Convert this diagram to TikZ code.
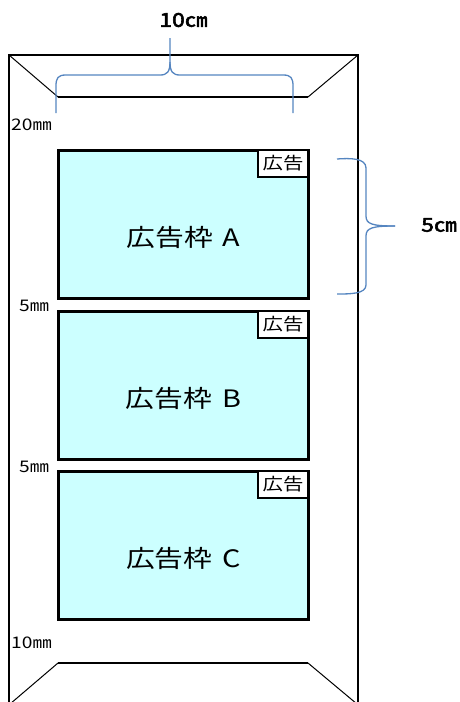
\documentclass[tikz,border=0pt]{standalone}
\usepackage{fontspec}
\newfontfamily\jp[FakeStretch=1.2]{Noto Sans CJK JP}
\newfontfamily\jpb[FakeStretch=1.2,FakeBold=3]{Noto Sans CJK JP}
\definecolor{adfill}{HTML}{CCFFFF}
\definecolor{bracecol}{HTML}{5585C0}
\tikzset{
  adbox/.style={draw=black, line width=3pt, fill=adfill, minimum width=250pt, minimum height=148pt, inner sep=0pt, outer sep=0pt},
  tagbox/.style={draw=black, line width=1.5pt, fill=white, minimum width=50pt, minimum height=27pt, inner sep=0pt, outer sep=0pt, font=\jp\fontsize{17}{17}\selectfont},
  adtext/.style={inner sep=0pt, font=\jp\fontsize{24}{24}\selectfont},
  dimtext/.style={inner sep=0pt, anchor=west, font=\jp\fontsize{16}{16}\selectfont},
  bigtext/.style={inner sep=0pt, font=\jpb\fontsize{19}{19}\selectfont},
  bracepath/.style={draw=bracecol, line width=1.3pt},
  flapdiag/.style={line width=1pt},
  flapline/.style={line width=2pt}
}
\begin{document}
\begin{tikzpicture}[x=1pt,y=-1pt]
\useasboundingbox (0,0) rectangle (459,702);
% envelope outline
\draw[line width=2pt] (9,55) rectangle (358,706);
% top flap
\coordinate (tl) at (9,55);
\coordinate (tr) at (358,55);
\coordinate (ftl) at (58,97);
\coordinate (ftr) at (308,97);
\draw[flapdiag] (tl) -- (ftl);
\draw[flapline] (ftl) -- (ftr);
\draw[flapdiag] (ftr) -- (tr);
% bottom flap
\coordinate (bl) at (10,704);
\coordinate (br) at (357,704);
\coordinate (fbl) at (58,663);
\coordinate (fbr) at (308,663);
\draw[flapdiag] (bl) -- (fbl);
\draw[flapline] (fbl) -- (fbr);
\draw[flapdiag] (fbr) -- (br);
% ad boxes
\node[adbox] (boxA) at (183,224) {};
\node[adbox] (boxB) at (183,385) {};
\node[adbox] (boxC) at (183,545) {};
\node[tagbox, anchor=north east] (tagA) at (boxA.north east) {広告};
\node[tagbox, anchor=north east] (tagB) at (boxB.north east) {広告};
\node[tagbox, anchor=north east] (tagC) at (boxC.north east) {広告};
\node[adtext] (txtA) at (183.5,237) {広告枠\hspace{10pt}A};
\node[adtext] (txtB) at (183.5,398) {広告枠\hspace{10pt}B};
\node[adtext] (txtC) at (183.5,558) {広告枠\hspace{10pt}C};
% margin labels
\node[dimtext] (m20) at (11,125) {20㎜};
\node[dimtext] (m5a) at (19,306) {5㎜};
\node[dimtext] (m5b) at (19,467) {5㎜};
\node[dimtext] (m10) at (11,643) {10㎜};
% top brace
\draw[bracepath] (56,113) -- (56,86) .. controls (56,78) and (58,75) .. (66,75)
  -- (160,75) .. controls (167,75) and (170,72) .. (170,62) -- (170,38);
\draw[bracepath] (170,62) .. controls (170,72) and (173,75) .. (180,75)
  -- (283,75) .. controls (291,75) and (293,78) .. (293,86) -- (293,113);
\node[bigtext] (w10) at (183.5,20) {10㎝};
% right brace
\draw[bracepath] (337,159) .. controls (350,158) and (366,158) .. (366,168)
  -- (366,216) .. controls (366,224) and (372,226) .. (395,226);
\draw[bracepath] (395,226) .. controls (372,226) and (366,228) .. (366,236)
  -- (366,285) .. controls (366,294) and (350,294) .. (337,294);
\node[bigtext] (h5) at (439,225) {5㎝};
\end{tikzpicture}
\end{document}
